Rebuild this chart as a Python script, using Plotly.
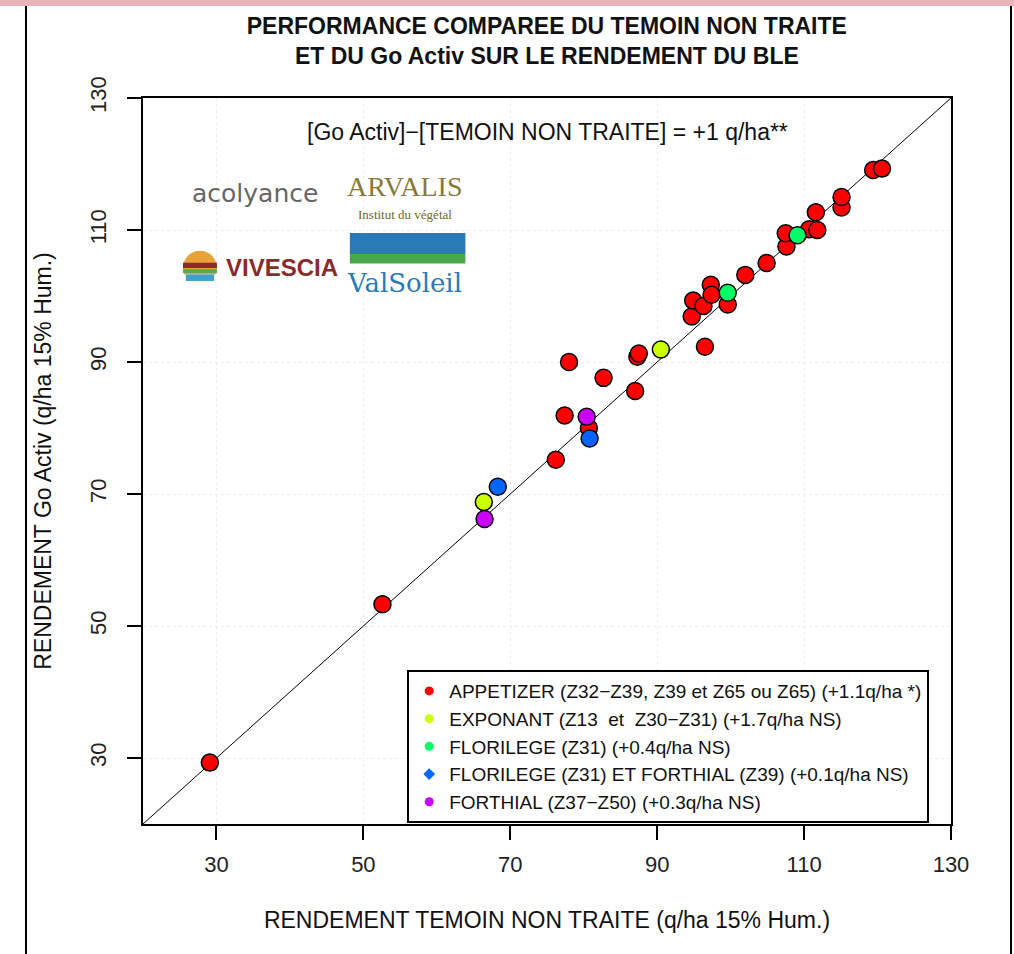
import plotly.graph_objects as go

# ---- data ----
appetizer_x = [29.1, 52.6, 76.2, 80.7, 77.4, 87.0, 82.7, 78.0, 87.3, 87.5, 96.5, 94.7, 94.9, 96.3,
               97.3, 97.4, 99.6, 102.0, 104.9, 107.6, 107.5, 110.7, 111.8, 111.6, 115.1, 115.1, 119.4, 120.6]
appetizer_y = [29.3, 53.3, 75.2, 80.0, 81.9, 85.6, 87.6, 90.0, 90.8, 91.3, 92.3, 96.9, 99.3, 98.5,
               101.7, 100.2, 98.7, 103.2, 105.0, 107.5, 109.5, 110.1, 110.0, 112.7, 113.4, 115.0, 119.1, 119.3]
exponant_x = [66.4, 90.5]
exponant_y = [68.8, 91.9]
florilege_x = [99.6, 109.1]
florilege_y = [100.5, 109.2]
flor_forth_x = [68.3, 80.8]
flor_forth_y = [71.1, 78.4]
forthial_x = [66.5, 80.4]
forthial_y = [66.2, 81.7]

series_names = [
    "APPETIZER (Z32\u2212Z39, Z39 et Z65 ou Z65) (+1.1q/ha *)",
    "EXPONANT (Z13  et  Z30\u2212Z31) (+1.7q/ha NS)",
    "FLORILEGE (Z31) (+0.4q/ha NS)",
    "FLORILEGE (Z31) ET FORTHIAL (Z39) (+0.1q/ha NS)",
    "FORTHIAL (Z37\u2212Z50) (+0.3q/ha NS)",
]
series_colors = ["#FF0000", "#CCFF00", "#00FF66", "#0066FF", "#CC00FF"]
legend_symbols = ["circle", "circle", "circle", "diamond", "circle"]
axis_range = [20, 130]
tick_vals = [30, 50, 70, 90, 110, 130]

series_x = [appetizer_x, exponant_x, florilege_x, flor_forth_x, forthial_x]
series_y = [appetizer_y, exponant_y, florilege_y, flor_forth_y, forthial_y]

FONT = "Liberation Sans, Arial, sans-serif"

fig = go.Figure()

# identity line
fig.add_trace(go.Scatter(x=axis_range, y=axis_range, mode="lines",
                         line=dict(color="black", width=1), showlegend=False,
                         hoverinfo="skip"))

# data points
for xs, ys, col in zip(series_x, series_y, series_colors):
    fig.add_trace(go.Scatter(x=xs, y=ys, mode="markers", showlegend=False,
                             marker=dict(size=17, color=col, symbol="circle",
                                         line=dict(color="black", width=1.5))))

# legend entries (small markers like R's legend)
for name, col, sym in zip(series_names, series_colors, legend_symbols):
    fig.add_trace(go.Scatter(x=[None], y=[None], mode="markers", name=name,
                             marker=dict(size=9, color=col, symbol=sym)))

axis_common = dict(range=axis_range, tickvals=tick_vals, ticks="outside", ticklen=14,
                   tickwidth=1.5, tickcolor="black", showline=True, linecolor="black",
                   linewidth=1.5, mirror=True, zeroline=False,
                   showgrid=True, gridcolor="#ececec", griddash="dot", gridwidth=1,
                   tickfont=dict(family=FONT, size=22, color="#222"))

fig.update_xaxes(**axis_common, ticklabelstandoff=6,
                 title=dict(text="RENDEMENT TEMOIN NON TRAITE (q/ha 15% Hum.)",
                            font=dict(family=FONT, size=23, color="#111"), standoff=36))
fig.update_yaxes(**axis_common, tickangle=-90, ticklabelstandoff=12,
                 title=dict(text="RENDEMENT Go Activ (q/ha 15% Hum.)",
                            font=dict(family=FONT, size=23, color="#111"), standoff=28))

fig.update_layout(
    width=1014, height=954,
    margin=dict(l=143, r=63, t=98, b=130),
    paper_bgcolor="white", plot_bgcolor="white",
    title=dict(text="<b>PERFORMANCE COMPAREE DU TEMOIN NON TRAITE<br>ET DU Go Activ SUR LE RENDEMENT DU BLE</b>",
               x=0.5393, xanchor="center", y=0.964, yanchor="top",
               font=dict(family=FONT, size=23, color="#111")),
    legend=dict(x=0.327, y=0.212, xanchor="left", yanchor="top",
                bordercolor="black", borderwidth=2, bgcolor="white",
                font=dict(family=FONT, size=19, color="#111"),
                itemsizing="trace", tracegroupgap=0),
    showlegend=True,
)

# subtitle annotation inside plot
fig.add_annotation(text="[Go Activ]\u2212[TEMOIN NON TRAITE] = +1 q/ha**",
                   xref="paper", yref="paper", x=0.5, y=0.953, xanchor="center", yanchor="middle",
                   showarrow=False, font=dict(family=FONT, size=23, color="#111"))

# partner logos rendered as text
fig.add_annotation(text="acolyance", xref="paper", yref="paper", x=0.139, y=0.869,
                   xanchor="center", yanchor="middle",
                   showarrow=False, font=dict(family="DejaVu Sans", size=25, color="#666"))
fig.add_annotation(text="ARVALIS", xref="paper", yref="paper", x=0.324, y=0.878,
                   xanchor="center", yanchor="middle",
                   showarrow=False, font=dict(family="Liberation Serif", size=28, color="#8a7a3a"))
fig.add_annotation(text="Institut du végétal", xref="paper", yref="paper", x=0.324, y=0.839,
                   xanchor="center", yanchor="middle",
                   showarrow=False, font=dict(family="Liberation Serif", size=13, color="#6b6b2a"))
fig.add_annotation(text="<b>VIVESCIA</b>", xref="paper", yref="paper", x=0.172, y=0.766,
                   xanchor="center", yanchor="middle",
                   showarrow=False, font=dict(family=FONT, size=24, color="#8b2a2a"))
fig.add_annotation(text="ValSoleil", xref="paper", yref="paper", x=0.324, y=0.745,
                   xanchor="center", yanchor="middle",
                   showarrow=False, font=dict(family="DejaVu Serif", size=26, color="#2a7ab8"))

shapes = [
    # vivescia sun
    dict(type="circle", xref="paper", yref="paper", x0=0.0495, x1=0.0915, y0=0.7425, y1=0.7895,
         fillcolor="#e8a23a", line=dict(width=0)),
    dict(type="rect", xref="paper", yref="paper", x0=0.0495, x1=0.0915, y0=0.766, y1=0.773,
         fillcolor="#8b2a2a", line=dict(width=0)),
    dict(type="rect", xref="paper", yref="paper", x0=0.0495, x1=0.0915, y0=0.759, y1=0.764,
         fillcolor="#5aa84a", line=dict(width=0)),
    dict(type="rect", xref="paper", yref="paper", x0=0.0495, x1=0.0915, y0=0.742, y1=0.757,
         fillcolor="white", line=dict(width=0)),
    dict(type="rect", xref="paper", yref="paper", x0=0.053, x1=0.088, y0=0.748, y1=0.757,
         fillcolor="#3aa0d8", line=dict(width=0)),
    # valsoleil banner
    dict(type="rect", xref="paper", yref="paper", x0=0.256, x1=0.399, y0=0.785, y1=0.814,
         fillcolor="#2a7ab8", line=dict(width=0)),
    dict(type="rect", xref="paper", yref="paper", x0=0.256, x1=0.399, y0=0.772, y1=0.785,
         fillcolor="#4aa84a", line=dict(width=0)),
    # page frame
    dict(type="line", xref="paper", yref="paper", x0=-0.1448, x1=-0.1448, y0=-0.2, y1=1.127,
         line=dict(color="black", width=2)),
    dict(type="line", xref="paper", yref="paper", x0=1.0743, x1=1.0743, y0=-0.2, y1=1.127,
         line=dict(color="black", width=2)),
    dict(type="rect", xref="paper", yref="paper", x0=-0.2, x1=1.1, y0=1.1267, y1=1.14,
         fillcolor="#e8b4b8", line=dict(width=0)),
]
fig.update_layout(shapes=shapes)

fig.write_html("out.html", post_script="document.body.style.margin='0';",
               config={"displayModeBar": False})
